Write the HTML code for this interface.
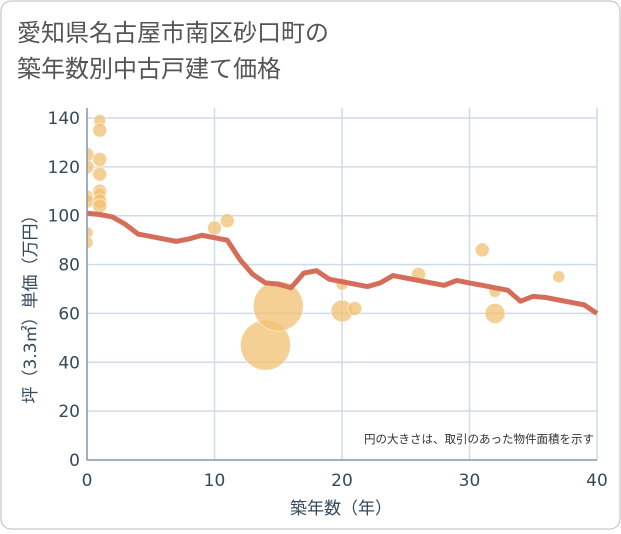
<!DOCTYPE html>
<html><head><meta charset="utf-8"><style>
body{margin:0;background:#fff;font-family:"DejaVu Sans","Noto Sans CJK JP",sans-serif}
#wrap{position:relative;width:621px;height:530px}
</style></head><body>
<div id="wrap">
<svg width="621" height="530" xmlns="http://www.w3.org/2000/svg" font-family="'DejaVu Sans','Noto Sans CJK JP',sans-serif">
<defs><clipPath id="plotclip"><rect x="87" y="100" width="510" height="360"/></clipPath></defs>
<rect x="1" y="1" width="619" height="528" rx="10" fill="#fff" stroke="#bbb"/>
<text x="17" y="41" font-size="24" fill="#555">愛知県名古屋市南区砂口町の</text>
<text x="17" y="77" font-size="24" fill="#555">築年数別中古戸建て価格</text>
<g id="grid"></g>
<g id="bubbles" clip-path="url(#plotclip)"></g>
<g id="line"></g>
<g id="axes"></g>
<text x="594" y="443" font-size="11.5" fill="#333" text-anchor="end">円の大きさは、取引のあった物件面積を示す</text>
<text x="341" y="514" font-size="17" fill="#34495e" text-anchor="middle">築年数（年）</text>
<text transform="translate(36,305) rotate(-90)" font-size="17" fill="#34495e" text-anchor="middle">坪（3.3㎡）単価（万円）</text>
</svg>
</div>
<script>
const xTicks=[0,10,20,30,40];
const yTicks=[0,20,40,60,80,100,120,140];
const lineX=[0,1,2,3,4,5,6,7,8,9,10,11,12,13,14,15,16,17,18,19,20,21,22,23,24,25,26,27,28,29,30,31,32,33,34,35,36,37,38,39,40];
const lineY=[101,100.5,99.5,96.5,92.5,91.5,90.5,89.5,90.5,92,91,90,82,76,72.5,72,70.5,76.5,77.5,74,73,72,71,72.5,75.5,74.5,73.5,72.5,71.5,73.5,72.5,71.5,70.5,69.5,65,67,66.5,65.5,64.5,63.5,60];
const bubX=[0,0,0,0,0,0,1,1,1,1,1,1,1,1,10,11,14,15,20,20,21,26,31,32,32,37];
const bubY=[125,120,108,106,93,89,139,135,123,117,110,109,106,104,95,98,47,63,72,61,62,76,86,69,60,75];
const bubR=[7,7,6,7,6,6,6,7,7,7,7,6,7,7,7,7,25,25,6,11,7,7,7,6,10,6];
const NS="http://www.w3.org/2000/svg";
const X0=87,X1=597,Y0=460,Y1=118;
const sx=v=>X0+(v/40)*(X1-X0);
const sy=v=>Y0-(v/140)*(Y0-Y1);
function mk(t,a,p){const e=document.createElementNS(NS,t);for(const k in a)e.setAttribute(k,a[k]);p.appendChild(e);return e;}
const g=document.getElementById('grid');
yTicks.forEach(v=>{const l=mk('line',{x1:X0,x2:X1,y1:sy(v),y2:sy(v),stroke:'#cfdbe8','stroke-width':1.5},g);

});
xTicks.forEach(v=>{const l=mk('line',{x1:sx(v),x2:sx(v),y1:Y1-10,y2:Y0,stroke:'#cfdbe8','stroke-width':1.5},g);

});
const b=document.getElementById('bubbles');
bubX.forEach((x,i)=>{const c=mk('circle',{cx:sx(x),cy:sy(bubY[i]),r:bubR[i],fill:'#f2c072','fill-opacity':0.75,stroke:'#fff','stroke-opacity':0.5},b);

});
const pl=mk('polyline',{points:lineX.map((x,i)=>sx(x)+','+sy(lineY[i])).join(' '),fill:'none',stroke:'#d46e5b','stroke-width':5,'stroke-linejoin':'round'},document.getElementById('line'));


const a=document.getElementById('axes');
const ax=mk('line',{x1:X0,x2:X0,y1:Y1-10,y2:Y0,stroke:'#8a9aab','stroke-width':1.5},a);


const bx=mk('line',{x1:X0,x2:X1,y1:Y0,y2:Y0,stroke:'#8a9aab','stroke-width':1.5},a);


yTicks.forEach(v=>{const t=mk('text',{x:X0-7,y:sy(v)+6,'font-size':17,fill:'#34495e','text-anchor':'end'},a);t.textContent=v;

});
xTicks.forEach(v=>{const t=mk('text',{x:sx(v),y:Y0+26,'font-size':17,fill:'#34495e','text-anchor':'middle'},a);t.textContent=v;

});
</script>
</body></html>
